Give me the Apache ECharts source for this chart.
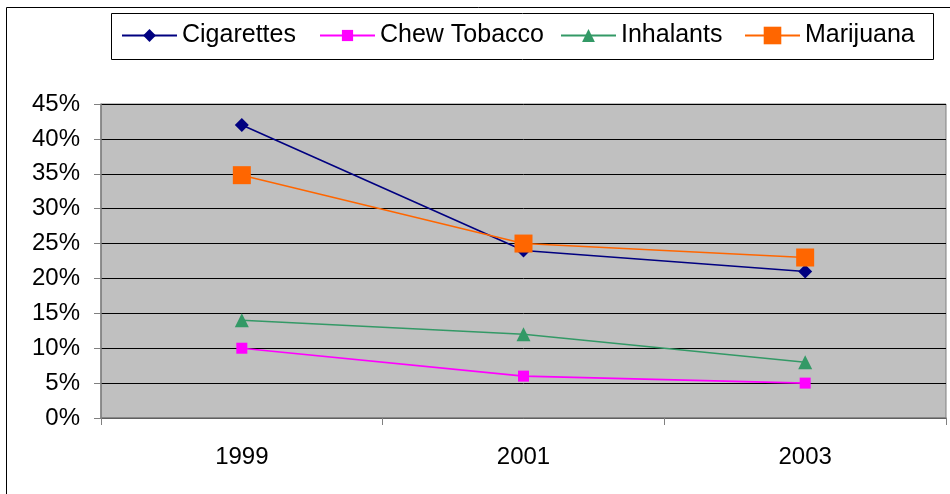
<!DOCTYPE html>
<html>
<head>
<meta charset="utf-8">
<script src="https://cdn.jsdelivr.net/npm/echarts@6/dist/echarts.min.js"></script>
<style>
  html, body { margin: 0; padding: 0; background: #fff; }
  #chart { width: 950px; height: 494px; }
</style>
</head>
<body>
<div id="chart"></div>
<script>
// data
var years = ['1999', '2001', '2003'];
var cigarettes = [0.42, 0.24, 0.21];
var chewTobacco = [0.10, 0.06, 0.05];
var inhalants = [0.14, 0.12, 0.08];
var marijuana = [0.348, 0.25, 0.23];

var font = 'Liberation Sans, Arial, sans-serif';

var chart = echarts.init(document.getElementById('chart'));

function lineSeries(name, data, color, symbol, size) {
    return {
        name: name,
        type: 'line',
        data: data,
        symbol: symbol,
        symbolSize: size,
        lineStyle: { color: color, width: 1.6 },
        itemStyle: { color: color },
        emphasis: { disabled: true },
        animation: false
    };
}

// one legend per entry so each icon can have its own marker size
function legendItem(name, left, h) {
    return {
        data: [name],
        left: left,
        top: 23,
        itemWidth: 55,
        itemHeight: h,
        padding: 0,
        selectedMode: false,
        textStyle: { fontFamily: font, fontSize: 25, color: '#000' }
    };
}

chart.setOption({
    backgroundColor: '#fff',
    textStyle: { fontFamily: font, color: '#000' },
    graphic: [
        // outer chart frame (cut off at right and bottom)
        { type: 'rect', shape: { x: 6.5, y: 7.5, width: 1000, height: 1000 },
          style: { fill: null, stroke: '#000', lineWidth: 1 }, z: 0 },
        // legend box
        { type: 'rect', shape: { x: 111.5, y: 13.5, width: 822, height: 46 },
          style: { fill: '#fff', stroke: '#000', lineWidth: 1 }, z: 0 }
    ],
    legend: [
        legendItem('Cigarettes', 121, 16),
        legendItem('Chew Tobacco', 319, 14),
        legendItem('Inhalants', 560, 16),
        legendItem('Marijuana', 744, 22)
    ],
    grid: {
        left: 101, right: 4, top: 104, bottom: 76,
        show: true,
        backgroundColor: '#C0C0C0',
        borderColor: '#808080',
        borderWidth: 1
    },
    xAxis: {
        type: 'category',
        data: years,
        boundaryGap: true,
        axisLine: { lineStyle: { color: '#808080', width: 1.5 } },
        axisTick: { show: true, length: 7, interval: 0, lineStyle: { color: '#808080' } },
        axisLabel: { fontSize: 24, color: '#000', margin: 27, fontFamily: font },
        splitLine: { show: false }
    },
    yAxis: {
        type: 'value',
        min: 0,
        max: 0.45,
        interval: 0.05,
        axisLine: { show: true, lineStyle: { color: '#808080', width: 1.5 } },
        axisTick: { show: true, length: 7, lineStyle: { color: '#808080' } },
        axisLabel: {
            fontSize: 24, color: '#000', margin: 21, fontFamily: font,
            formatter: function (v) { return Math.round(v * 100) + '%'; }
        },
        splitLine: { show: true, lineStyle: { color: '#000', width: 1 } }
    },
    series: [
        lineSeries('Cigarettes', cigarettes, '#000080', 'diamond', 14),
        lineSeries('Chew Tobacco', chewTobacco, '#FF00FF', 'rect', 11),
        lineSeries('Inhalants', inhalants, '#339966', 'triangle', 14),
        lineSeries('Marijuana', marijuana, '#FF6600', 'rect', 18)
    ]
});
</script>
</body>
</html>
